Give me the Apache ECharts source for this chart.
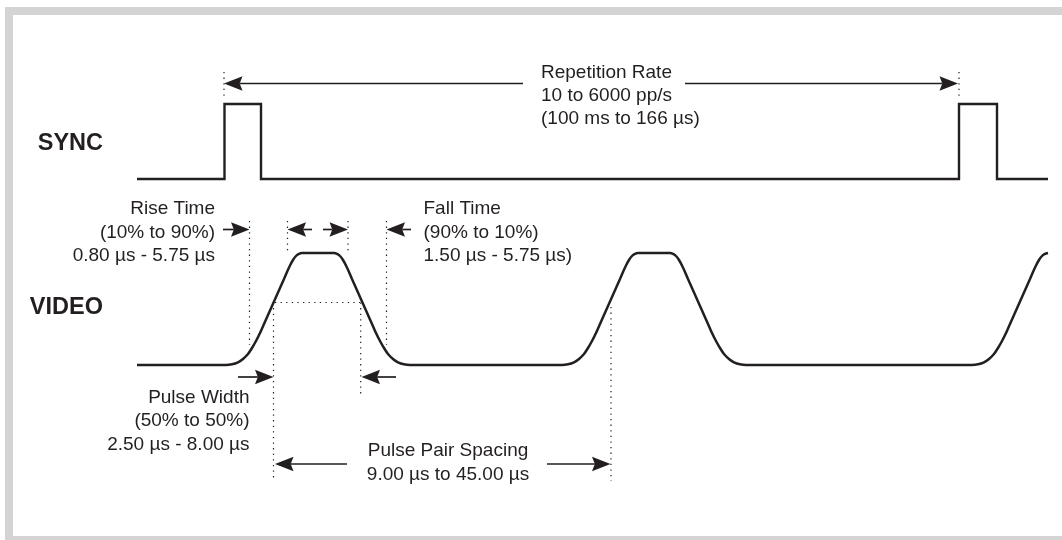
<!DOCTYPE html>
<html><head><meta charset="utf-8">
<script src="https://cdn.jsdelivr.net/npm/echarts@6/dist/echarts.min.js"></script>
<style>html,body{margin:0;padding:0;background:#fff}#c{width:1062px;height:540px}</style>
</head><body><div id="c"></div>
<script>
// ---- diagram data (schematic units: x = time position, y = level position) ----
const signalNames = ['SYNC', 'VIDEO'];
const repetitionText = ['Repetition Rate', '10 to 6000 pp/s', '(100 ms to 166 µs)'];
const riseText = ['Rise Time', '(10% to 90%)', '0.80 µs - 5.75 µs'];
const fallText = ['Fall Time', '(90% to 10%)', '1.50 µs - 5.75 µs)'];
const widthText = ['Pulse Width', '(50% to 50%)', '2.50 µs - 8.00 µs'];
const spacingText = ['Pulse Pair Spacing', '9.00 µs to 45.00 µs'];

// SYNC trace (square pulses)
const syncTrace = [
  [137, 179], [224.5, 179], [224.5, 104], [261, 104], [261, 179],
  [959, 179], [959, 104], [997, 104], [997, 179], [1048, 179]
];

// VIDEO trace (rounded trapezoid pulses)
const videoTrace = [
  [137, 365],
  // pulse 1 rising edge
  [226, 365], [232, 364.3], [238, 362.3], [243, 359], [248, 354], [252, 348], [256, 341],
  [260, 333], [264, 324], [268, 315], [272, 306], [276, 297], [280, 288], [284, 279],
  [287, 272], [290, 265.5], [293, 260], [296, 256], [299, 253.8], [302, 253],
  // pulse 1 falling edge
  [334, 253], [337, 253.8], [340, 256], [343, 260], [346, 265.5], [349, 272], [352, 279],
  [356, 288], [360, 297], [364, 306], [368, 315], [372, 324], [376, 333], [380, 341],
  [384, 348], [388, 354], [393, 359], [398, 362.3], [404, 364.3], [410, 365],
  // pulse 2 rising edge
  [562, 365], [568, 364.3], [574, 362.3], [579, 359], [584, 354], [588, 348], [592, 341],
  [596, 333], [600, 324], [604, 315], [608, 306], [612, 297], [616, 288], [620, 279],
  [623, 272], [626, 265.5], [629, 260], [632, 256], [635, 253.8], [638, 253],
  // pulse 2 falling edge
  [670, 253], [673, 253.8], [676, 256], [679, 260], [682, 265.5], [685, 272], [688, 279],
  [692, 288], [696, 297], [700, 306], [704, 315], [708, 324], [712, 333], [716, 341],
  [720, 348], [724, 354], [729, 359], [734, 362.3], [740, 364.3], [746, 365],
  // pulse 3 rising edge
  [972, 365], [978, 364.3], [984, 362.3], [989, 359], [994, 354], [998, 348], [1002, 341],
  [1006, 333], [1010, 324], [1014, 315], [1018, 306], [1022, 297], [1026, 288], [1030, 279],
  [1033, 272], [1036, 265.5], [1039, 260], [1042, 256], [1045, 253.8], [1048, 253]
];

// dotted reference lines: [x1, y1, x2, y2]
const dottedLines = [
  [224, 72, 224, 98], [959, 72, 959, 100],
  [249.5, 221, 249.5, 345], [287.5, 221, 287.5, 254], [348, 221, 348, 254], [386.5, 221, 386.5, 345],
  [273.5, 302.5, 273.5, 481], [360.7, 302.5, 360.7, 396], [611, 307, 611, 481],
  [275, 302.5, 360, 302.5]
];

// arrows: [tail x, head x, y]
const arrows = [
  [523, 224, 83.5], [685, 958, 83.5],
  [223, 249.5, 229.5], [312, 287.5, 229.5], [323, 348, 229.5], [411, 386.5, 229.5],
  [238, 273.5, 377], [396, 361.5, 377],
  [347, 275, 464], [547, 610.5, 464]
];

// ---- text placement (layout) ----
const INK = '#231f20';
const FONT = '"Liberation Sans", Arial, Helvetica, sans-serif';
const texts = [];
function block(lines, x, y0, dy, align) {
  lines.forEach((t, i) => texts.push({ t, x, y: y0 + i * dy, align, bold: false }));
}
texts.push({ t: signalNames[0], x: 103, y: 144, align: 'right', bold: true });
texts.push({ t: signalNames[1], x: 103, y: 308, align: 'right', bold: true });
block(repetitionText, 541, 73, 22.7, 'left');
block(riseText, 215, 209, 23.5, 'right');
block(fallText, 423.5, 209, 23.5, 'left');
block(widthText, 249.5, 398, 23.2, 'right');
block(spacingText, 448, 450.5, 24.5, 'center');

const chart = echarts.init(document.getElementById('c'), null, { renderer: 'canvas' });
chart.setOption({
  animation: false,
  backgroundColor: '#ffffff',
  graphic: [
    { type: 'rect', z: -10, shape: { x: 5, y: 7, width: 1057, height: 533 }, style: { fill: '#d4d4d5' } },
    { type: 'rect', z: -9, shape: { x: 13, y: 15, width: 1049, height: 521 }, style: { fill: '#ffffff' } }
  ],
  grid: { left: 0, right: 0, top: 0, bottom: 0, containLabel: false },
  xAxis: { type: 'value', min: 0, max: 1062, show: false },
  yAxis: { type: 'value', min: 0, max: 540, inverse: true, show: false },
  series: [
    {
      type: 'line', data: syncTrace, showSymbol: false, symbol: 'none',
      lineStyle: { color: INK, width: 2.4, join: 'miter' }, z: 5
    },
    {
      type: 'line', data: videoTrace, showSymbol: false, symbol: 'none', smooth: 0.2,
      lineStyle: { color: INK, width: 2.5 }, z: 5
    },
    {
      type: 'custom', data: dottedLines, z: 3,
      renderItem: function (params, api) {
        const p0 = api.coord([api.value(0), api.value(1)]);
        const p1 = api.coord([api.value(2), api.value(3)]);
        return {
          type: 'line',
          shape: { x1: p0[0], y1: p0[1], x2: p1[0], y2: p1[1] },
          style: { stroke: INK, lineWidth: 1.2, lineDash: [1.3, 4.3] }
        };
      }
    },
    {
      type: 'custom', data: arrows, z: 4,
      renderItem: function (params, api) {
        const y = api.value(2);
        const p0 = api.coord([api.value(0), y]);
        const p1 = api.coord([api.value(1), y]);
        const d = p1[0] > p0[0] ? 1 : -1;
        const L = 18.5, W = 7.2, N = 2.8;
        const tip = p1[0];
        return {
          type: 'group',
          children: [
            {
              type: 'line',
              shape: { x1: p0[0], y1: p0[1], x2: tip - d * (L - N), y2: p1[1] },
              style: { stroke: INK, lineWidth: 1.7 }
            },
            {
              type: 'polygon',
              shape: { points: [[tip, p1[1]], [tip - d * L, p1[1] - W], [tip - d * (L - N), p1[1]], [tip - d * L, p1[1] + W]] },
              style: { fill: INK }
            }
          ]
        };
      }
    },
    {
      type: 'custom', data: texts.map(o => [o.x, o.y]), z: 6,
      renderItem: function (params, api) {
        const o = texts[params.dataIndex];
        const p = api.coord([api.value(0), api.value(1)]);
        return {
          type: 'text',
          style: {
            text: o.t, x: p[0], y: p[1], align: o.align, verticalAlign: 'middle',
            fill: INK, font: (o.bold ? 'bold 23.5px ' : '19px ') + FONT
          }
        };
      }
    }
  ]
});
</script></body></html>
